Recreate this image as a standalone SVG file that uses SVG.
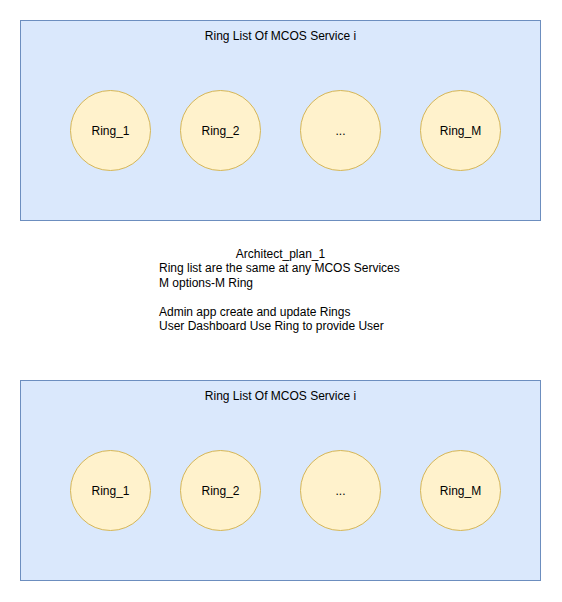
<svg xmlns="http://www.w3.org/2000/svg" width="562" height="602" viewBox="0 0 562 602">
<style>
.box{fill:#dae8fc;stroke:#6c8ebf;stroke-width:1}
.ring{fill:#fff2cc;stroke:#d6b656;stroke-width:1}
text{font-family:"Liberation Sans",Arial,sans-serif;font-size:12px;fill:#000}
.c{text-anchor:middle}
</style>
<rect width="562" height="602" fill="#fff"/>
<g id="list-top">
<rect class="box" x="20.5" y="20.5" width="520" height="200"/>
<text class="c" x="280.5" y="40">Ring List Of MCOS Service i</text>
</g>
<g id="top-ring1"><circle class="ring" cx="110.5" cy="130.5" r="40"/><text class="c" x="110.5" y="134.5">Ring_1</text></g>
<g id="top-ring2"><circle class="ring" cx="220.5" cy="130.5" r="40"/><text class="c" x="220.5" y="134.5">Ring_2</text></g>
<g id="top-ringdots"><circle class="ring" cx="340.5" cy="130.5" r="40"/><text class="c" x="340.5" y="134.5">...</text></g>
<g id="top-ringM"><circle class="ring" cx="460.5" cy="130.5" r="40"/><text class="c" x="460.5" y="134.5">Ring_M</text></g>
<g id="note">
<text class="c" x="280.5" y="258">Architect_plan_1</text>
<text x="159" y="272.4">Ring list are the same at any MCOS Services</text>
<text x="159" y="286.8">M options-M Ring</text>
<text x="159" y="315.6">Admin app create and update Rings</text>
<text x="159" y="330">User Dashboard Use Ring to provide User</text>
</g>
<g id="list-bottom">
<rect class="box" x="20.5" y="380.5" width="520" height="200"/>
<text class="c" x="280.5" y="400">Ring List Of MCOS Service i</text>
</g>
<g id="bot-ring1"><circle class="ring" cx="110.5" cy="490.5" r="40"/><text class="c" x="110.5" y="494.5">Ring_1</text></g>
<g id="bot-ring2"><circle class="ring" cx="220.5" cy="490.5" r="40"/><text class="c" x="220.5" y="494.5">Ring_2</text></g>
<g id="bot-ringdots"><circle class="ring" cx="340.5" cy="490.5" r="40"/><text class="c" x="340.5" y="494.5">...</text></g>
<g id="bot-ringM"><circle class="ring" cx="460.5" cy="490.5" r="40"/><text class="c" x="460.5" y="494.5">Ring_M</text></g>
<g id="connectors"></g>
</svg>
